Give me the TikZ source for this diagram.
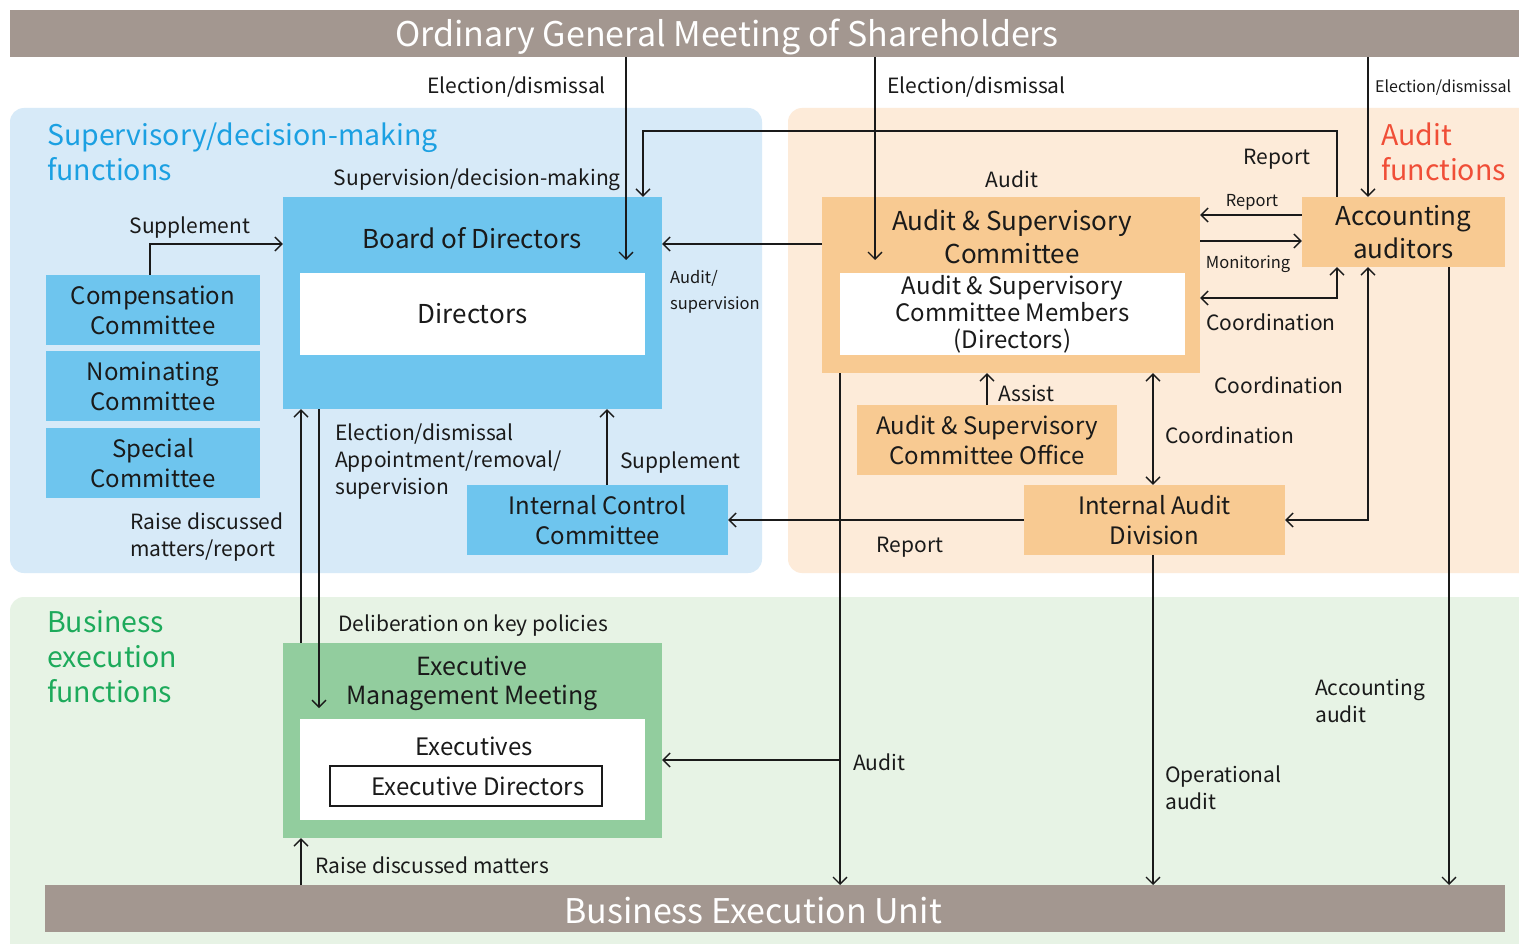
\documentclass[tikz,border=0pt]{standalone}
\usepackage{fontspec}
\setmainfont{Noto Sans CJK JP}
\usetikzlibrary{arrows.meta,positioning}
\definecolor{govBar}{HTML}{A39790}
\definecolor{govBlueBg}{HTML}{D7EAF8}
\definecolor{govBlue}{HTML}{6EC5EE}
\definecolor{govBlueTxt}{HTML}{1BA0E2}
\definecolor{govOrangeBg}{HTML}{FDEBD9}
\definecolor{govOrange}{HTML}{F8CA92}
\definecolor{govRedTxt}{HTML}{F04E37}
\definecolor{govGreenBg}{HTML}{E7F3E5}
\definecolor{govGreen}{HTML}{92CD9E}
\definecolor{govGreenTxt}{HTML}{1DAA5B}
\definecolor{govInk}{HTML}{1A1A1A}
\newcommand\fsBar{\fontsize{34}{40}\selectfont}
\newcommand\fsRegion{\fontsize{28.5}{35}\selectfont}
\newcommand\fsHead{\fontsize{26}{33}\selectfont}
\newcommand\fsBox{\fontsize{24}{30}\selectfont}
\newcommand\fsMember{\fontsize{24}{27}\selectfont}
\newcommand\fsEmm{\fontsize{25}{29}\selectfont}
\newcommand\fsLbl{\fontsize{21}{27}\selectfont}
\newcommand\fsSmall{\fontsize{16.5}{26}\selectfont}
\tikzset{
  bar/.style={rectangle, fill=govBar, inner sep=0pt},
  bartext/.style={text=white, font=\fsBar, inner sep=0pt},
  region/.style={align=left, anchor=north west, inner sep=0pt, font=\fsRegion},
  bluebox/.style={rectangle, fill=govBlue, align=center, inner sep=0pt, font=\fsBox, text=govInk},
  orangebox/.style={rectangle, fill=govOrange, align=center, inner sep=0pt, font=\fsBox, text=govInk},
  greenbox/.style={rectangle, fill=govGreen, inner sep=0pt},
  whitebox/.style={rectangle, fill=white, align=center, inner sep=0pt, text=govInk},
  boxtitle/.style={align=center, inner sep=0pt, text=govInk},
  lbl/.style={align=left, inner sep=0pt, font=\fsLbl, text=govInk, yshift=-2.5pt},
  lblsmall/.style={lbl, font=\fsSmall},
  >={Straight Barb[length=7pt,width=14pt]},
  arr/.style={->, line width=1.3pt, draw=govInk},
  arrboth/.style={<->, line width=1.3pt, draw=govInk}
}
\begin{document}
\begin{tikzpicture}[x=1pt, y=-1pt]
\useasboundingbox (0,0) rectangle (1519,944);
\fill[white] (0,0) rectangle (1519,944);
% the three function areas
\fill[govBlueBg, rounded corners=14pt] (10,108) rectangle (762,573);
\fill[govOrangeBg, rounded corners=14pt] (788,108) rectangle (1545,573);
\fill[govGreenBg, rounded corners=14pt] (10,597) rectangle (1545,960);
\node[region, text=govBlueTxt] (supTtl) at (47,123) {Supervisory/decision-making\\functions};
\node[region, text=govRedTxt] (audTtl) at (1381,123) {Audit\\functions};
\node[region, text=govGreenTxt] (bizTtl) at (47,610) {Business\\execution\\functions};

% bars
\node[bar, anchor=north west, minimum width=1540, minimum height=47] (gms) at (10,10) {};
\node[bartext] (gmsTxt) at (727,37) {Ordinary General Meeting of Shareholders};
\node[bar, anchor=north west, minimum width=1460, minimum height=47] (beu) at (45,885) {};
\node[bartext] (beuTxt) at (753,911) {Business Execution Unit};

% supervisory side
\node[bluebox, minimum width=379, minimum height=212] (bod) at (472.5,303) {};
\node[boxtitle, font=\fsHead] (bodTxt) at (472,238) {Board of Directors};
\node[whitebox, minimum width=345, minimum height=82, font=\fsHead] (dirs) at (472.5,314) {Directors};
\node[bluebox, minimum width=214, minimum height=70] (comp) at (153,310) {Compensation\\Committee};
\node[bluebox, minimum width=214, minimum height=70, below=6pt of comp] (nomi) {Nominating\\Committee};
\node[bluebox, minimum width=214, minimum height=70, below=6pt of nomi] (spec) {Special\\Committee};
\node[bluebox, minimum width=261, minimum height=70] (icc) at (597.5,520) {Internal Control\\Committee};

% audit side
\node[orangebox, minimum width=378, minimum height=176] (asc) at (1011,285) {};
\node[boxtitle, font=\fsHead] (ascTxt) at (1012,237) {Audit \& Supervisory\\Committee};
\node[whitebox, minimum width=345, minimum height=82, font=\fsMember] (ascMem) at (1012.5,314) {Audit \& Supervisory\\Committee Members\\(Directors)};
\node[orangebox, minimum width=203, minimum height=70, font=\fsHead] (acc) at (1403.5,232) {Accounting\\auditors};
\node[orangebox, minimum width=260, minimum height=70] (ofc) at (987,440) {Audit \& Supervisory\\Committee Office};
\node[orangebox, minimum width=261, minimum height=70] (iad) at (1154.5,520) {Internal Audit\\Division};

% execution side
\node[greenbox, minimum width=379, minimum height=195] (emm) at (472.5,740.5) {};
\node[boxtitle, font=\fsEmm] (emmTxt) at (472,683) {Executive\\Management Meeting};
\node[whitebox, minimum width=345, minimum height=101] (exs) at (472.5,769.5) {};
\node[boxtitle, font=\fsBox] (exsTxt) at (474,746) {Executives};
\node[draw=govInk, line width=1.2pt, fill=white, minimum width=272, minimum height=40, inner sep=0pt, font=\fsBox, text=govInk] (exd) at (466,786) {\hspace*{24pt}Executive Directors};

% turning points and free ends
\coordinate (bodIn) at (626,260);
\coordinate (ascIn) at (875,260);
\coordinate (accIn) at (1368,197);
\coordinate (rptUp) at (1337,131);
\coordinate (rptDn) at (643,131);
\coordinate (supUp) at (150,244);
\coordinate (rpt2) at (1250,215);
\coordinate (mon) at (1250,241);
\coordinate (crd1) at (1250,298);
\coordinate (accOut) at (1449,267);
\coordinate (colAud) at (840,760);
\coordinate (colIad) at (1153,0);
\coordinate (colSupp) at (607,0);
\coordinate (colUp) at (301,0);
\coordinate (colDn) at (319,708);

\draw[arr] (gms.south -| bodIn) -- (bodIn);
\draw[arr] (gms.south -| ascIn) -- (ascIn);
\draw[arr] (gms.south -| accIn) -- (acc.north -| accIn);
\draw[arr] (acc.north -| rptUp) -- (rptUp) -- (rptDn) -- (bod.north -| rptDn);
\draw[arr] (comp.north -| supUp) -- (supUp) -- (bod.west |- supUp);
\draw[arr] (asc.west |- supUp) -- (bod.east |- supUp);
\draw[arr] (acc.west |- rpt2) -- (asc.east |- rpt2);
\draw[arr] (asc.east |- mon) -- (acc.west |- mon);
\draw[arrboth] (asc.east |- crd1) -| (acc.south -| rptUp);
\draw[arrboth] (acc.south -| accIn) |- (iad.east);
\draw[arrboth] (asc.south -| colIad) -- (iad.north -| colIad);
\draw[arr] (ofc.north) -- (asc.south -| ofc.north);
\draw[arr] (iad.west) -- (icc.east);
\draw[arr] (asc.south -| colAud) -- (beu.north -| colAud);
\draw[arr] (colAud) -- (emm.east |- colAud);
\draw[arr] (iad.south -| colIad) -- (beu.north -| colIad);
\draw[arr] (acc.south -| accOut) -- (beu.north -| accOut);
\draw[arr] (icc.north -| colSupp) -- (bod.south -| colSupp);
\draw[arr] (emm.north -| colUp) -- (bod.south -| colUp);
\draw[arr] (bod.south -| colDn) -- (colDn);
\draw[arr] (beu.north -| colUp) -- (emm.south -| colUp);

% connector labels
\node[lbl, anchor=east] (lblEd1) at (606,85) {Election/dismissal};
\node[lbl, anchor=west] (lblEd2) at (887,85) {Election/dismissal};
\node[lbl, anchor=west, font=\fontsize{16}{26}\selectfont] (lblEd3) at (1375,85) {Election/dismissal};
\node[lbl, anchor=east] (lblSup) at (621,177) {Supervision/decision-making};
\node[lbl] (lblRpt1) at (1277,157) {Report};
\node[lbl] (lblAud1) at (1012,177) {Audit};
\node[lblsmall] (lblRpt2) at (1252,200) {Report};
\node[lblsmall] (lblMon) at (1248,262) {Monitoring};
\node[lbl] (lblCrd1) at (1271,320) {Coordination};
\node[lbl] (lblCrd2) at (1279,383) {Coordination};
\node[lbl, anchor=west] (lblCrd3) at (1165,433) {Coordination};
\node[lbl, anchor=west] (lblAssist) at (998,391) {Assist};
\node[lbl] (lblRpt3) at (910,545) {Report};
\node[lblsmall, anchor=west] (lblAudSup) at (670,289) {Audit/\\supervision};
\node[lbl] (lblSupp1) at (190,225) {Supplement};
\node[lbl, anchor=west] (lblSupp2) at (620,460) {Supplement};
\node[lbl, anchor=west] (lblRaise1) at (130,535) {Raise discussed\\matters/report};
\node[lbl, anchor=west] (lblElect) at (335,459) {Election/dismissal\\Appointment/removal/\\supervision};
\node[lbl, anchor=west] (lblDelib) at (338,623) {Deliberation on key policies};
\node[lbl, anchor=west] (lblRaise2) at (315,863) {Raise discussed matters};
\node[lbl, anchor=west] (lblAud2) at (853,760) {Audit};
\node[lbl, anchor=west] (lblOper) at (1165,785) {Operational\\audit};
\node[lbl, anchor=west] (lblAcc) at (1315,698) {Accounting\\audit};
\end{tikzpicture}
\end{document}
